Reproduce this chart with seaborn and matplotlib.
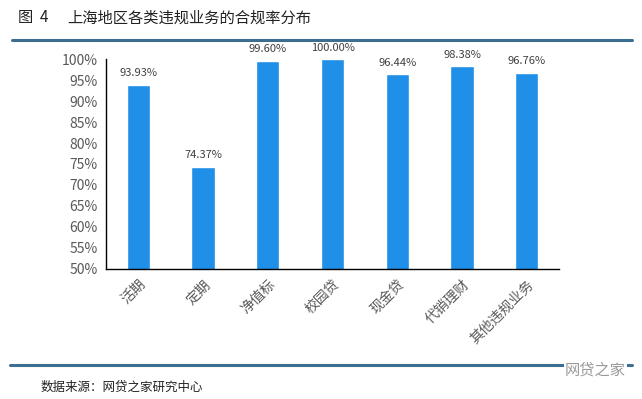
import matplotlib
matplotlib.use('Agg')
import matplotlib.pyplot as plt
import seaborn as sns
import pandas as pd
from matplotlib.ticker import FuncFormatter, FixedLocator
from matplotlib.lines import Line2D

# data
categories = ['活期', '定期', '净值标', '校园贷', '现金贷', '代销理财', '其他违规业务']
rates = [93.93, 74.37, 99.60, 100.00, 96.44, 98.38, 96.76]
yticks = [50, 55, 60, 65, 70, 75, 80, 85, 90, 95, 100]

sns.set_style('white')
plt.rcParams['font.family'] = ['Noto Sans CJK SC', 'DejaVu Sans']

df = pd.DataFrame({'cat': categories, 'rate': rates})

fig = plt.figure(figsize=(6.42, 3.99), dpi=100)
ax = fig.add_axes([0.165, 0.326, 0.706, 0.526])

sns.barplot(data=df, x='cat', y='rate', color='#1F8FE8', saturation=1, width=0.36, ax=ax)

ax.set_ylim(50, 100)
ax.set_xlim(-0.5, len(categories) - 0.5)
ax.set_yticks(yticks)
ax.yaxis.set_major_formatter(FuncFormatter(lambda v, p: f'{v:.0f}%'))
ax.set_xlabel('')
ax.set_ylabel('')

for s in ['top', 'right']:
    ax.spines[s].set_visible(False)
for s in ['left', 'bottom']:
    ax.spines[s].set_color('black')
    ax.spines[s].set_linewidth(1)

ax.tick_params(axis='y', direction='out', length=4, width=1, color='black', labelsize=10, labelcolor='#595959', pad=2)
ax.tick_params(axis='x', which='major', length=0, labelsize=10, labelcolor='#595959', pad=6)
ax.xaxis.set_minor_locator(FixedLocator([i - 0.5 for i in range(len(categories) + 1)]))
ax.tick_params(axis='x', which='minor', direction='out', length=4, width=1, color='black')
for lab in ax.get_xticklabels():
    lab.set_rotation(45)
    lab.set_ha('right')
    lab.set_rotation_mode('anchor')

for i, v in enumerate(rates):
    ax.text(i, v + 1.5, f'{v:.2f}%', ha='center', va='bottom', fontsize=8, color='#404040')

# title, frame lines and source
fig.text(0.028, 0.955, '图  4', fontsize=11, color='#222222', va='center')
fig.text(0.105, 0.955, '上海地区各类违规业务的合规率分布', fontsize=11, color='#222222', va='center')
fig.add_artist(Line2D([0.018, 0.985], [0.9, 0.9], color='#3C6E91', lw=2.2, transform=fig.transFigure))
fig.add_artist(Line2D([0.015, 0.985], [0.085, 0.085], color='#3C6E91', lw=2.2, transform=fig.transFigure))
fig.text(0.063, 0.03, '数据来源：网贷之家研究中心', fontsize=9, color='#222222', va='center')
fig.text(0.975, 0.072, '网贷之家', fontsize=11, color='#9a9a9a', ha='right', va='center',
         bbox=dict(facecolor='white', edgecolor='none', pad=1))

fig.savefig('out.png', dpi=100)
